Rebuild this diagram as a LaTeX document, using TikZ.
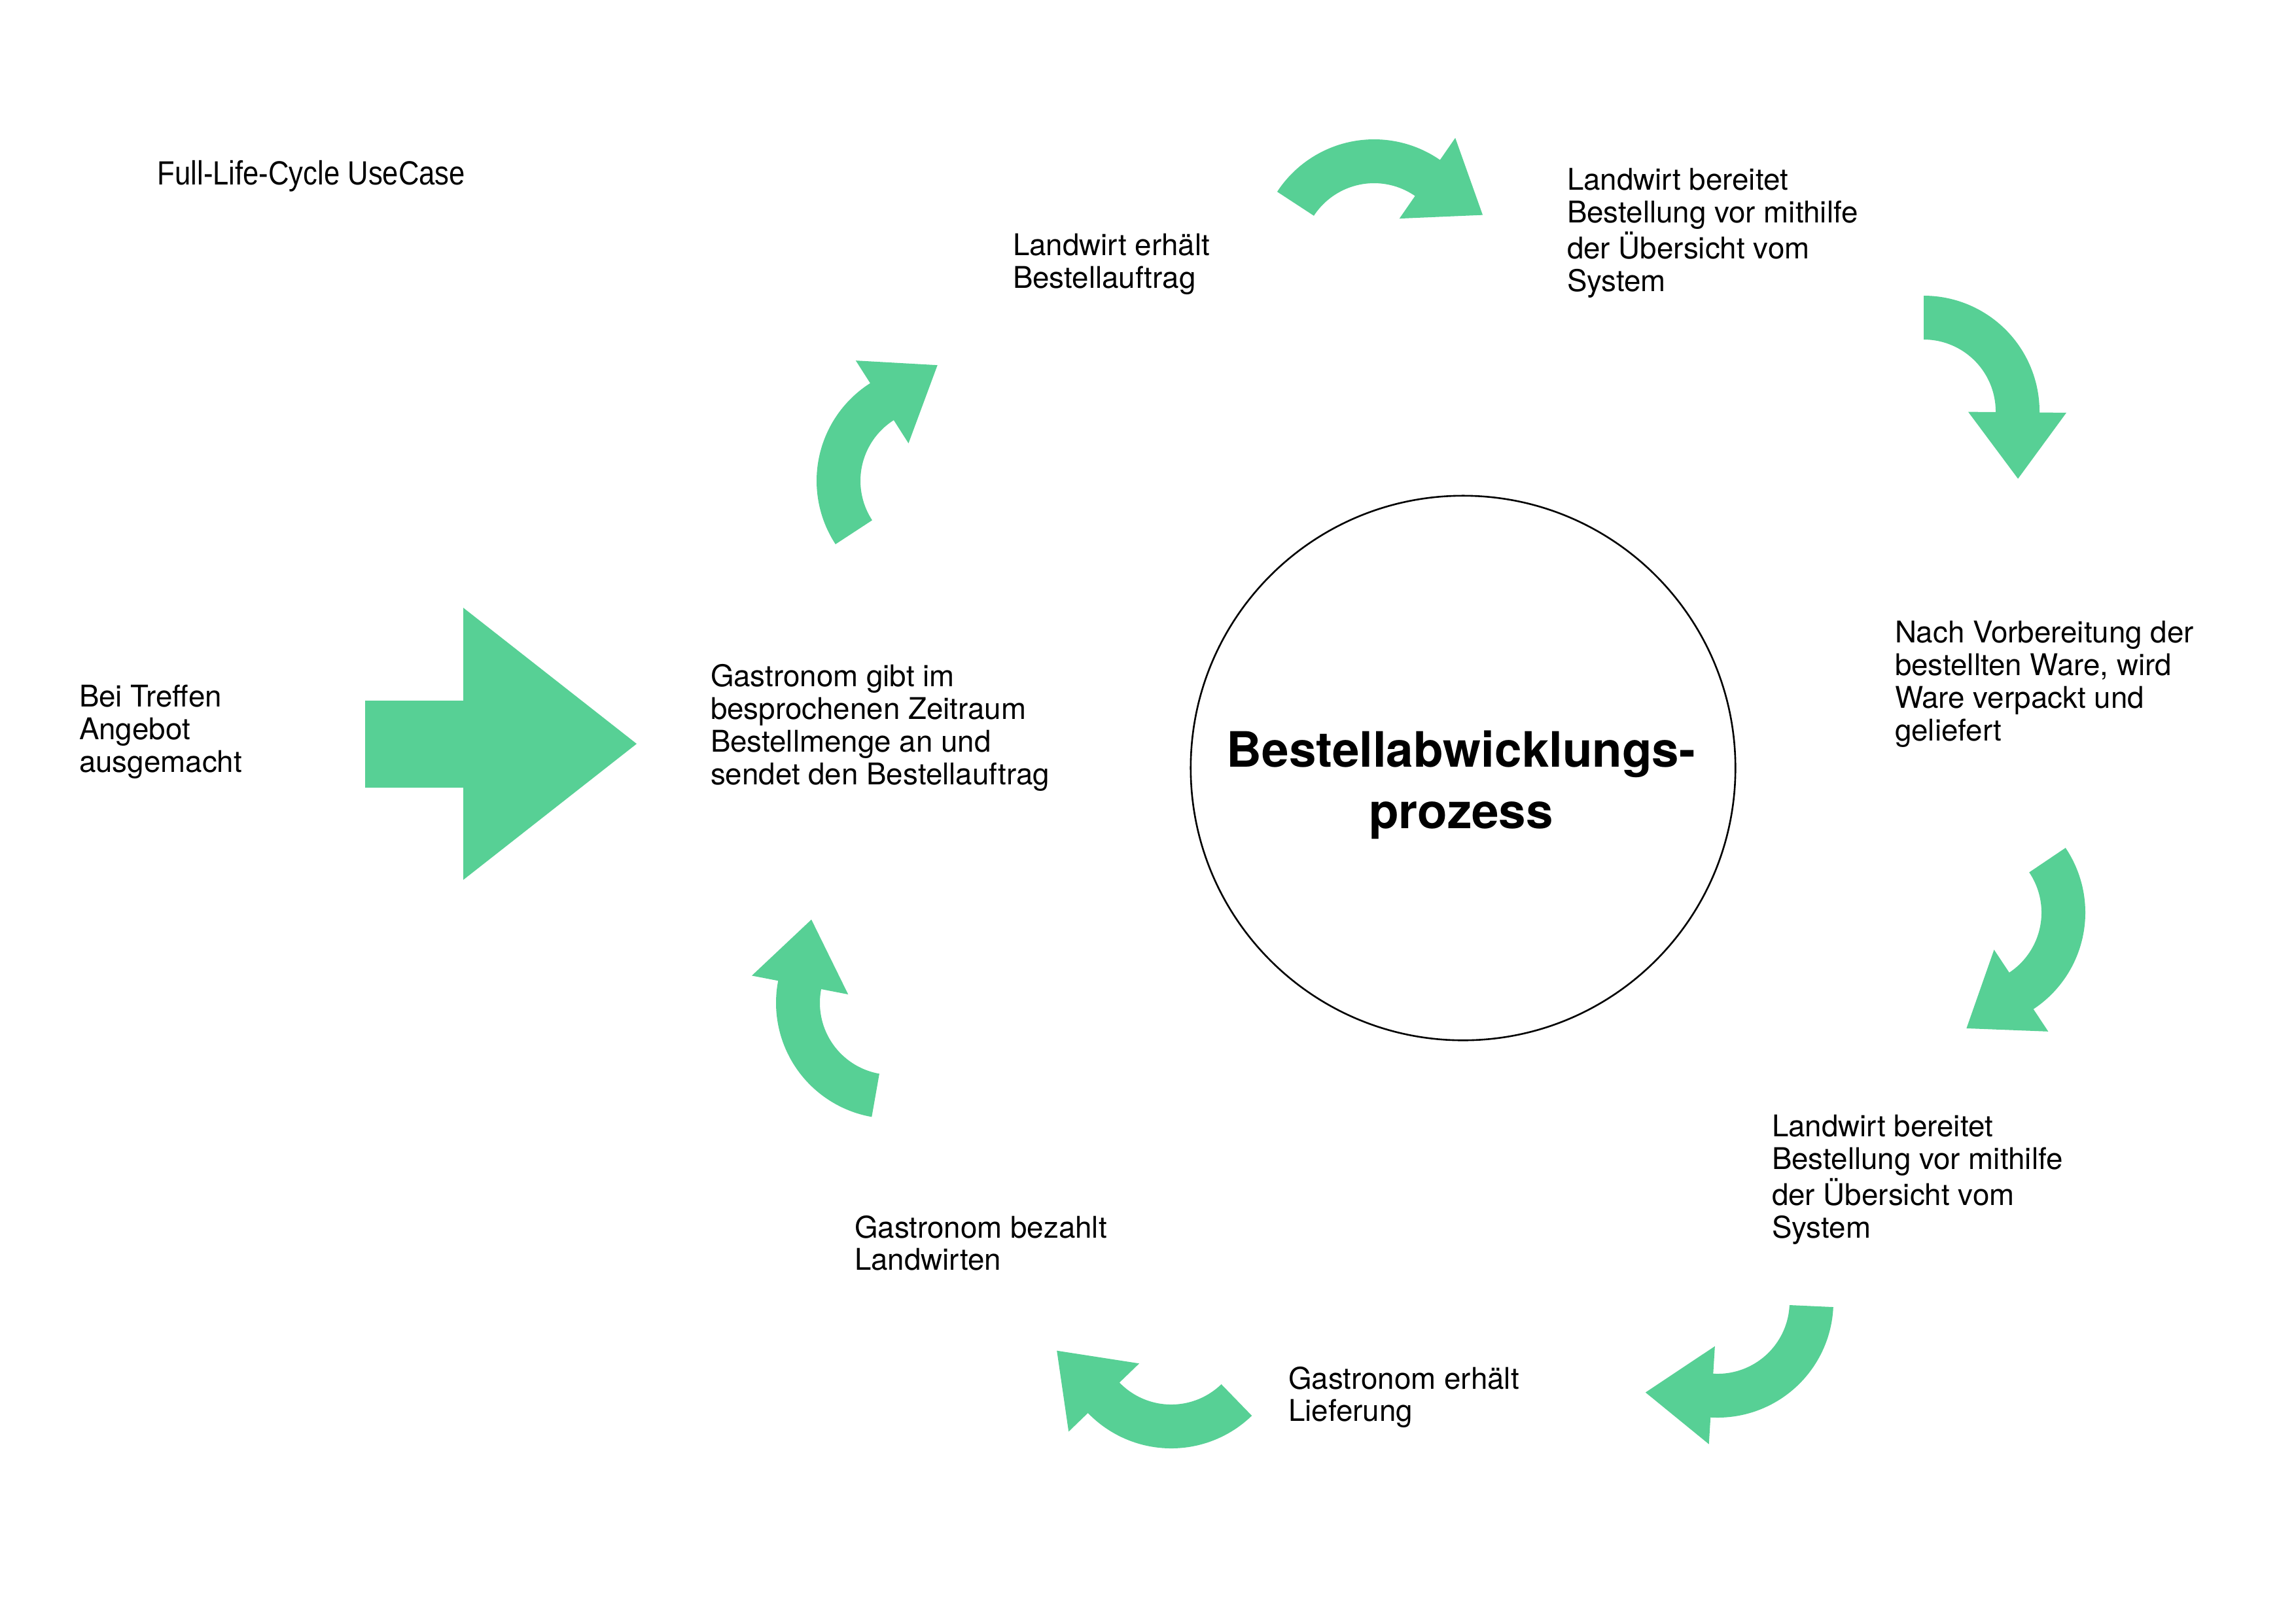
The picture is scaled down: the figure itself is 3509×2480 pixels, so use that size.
\documentclass[tikz,border=0pt]{standalone}
\usepackage{fontspec}
\usepackage{graphicx}
\setmainfont{TeX Gyre Heros}
\newfontfamily\titlefont{Liberation Sans}
\definecolor{arrowgreen}{RGB}{87,208,149}
\tikzset{
  txt/.style={anchor=north west, inner sep=0pt, outer sep=0pt, align=left, font=\fontsize{13}{14.2}\selectfont},
  coretxt/.style={anchor=north, inner sep=0pt, align=center, font=\fontsize{21.2}{26.7}\selectfont\bfseries},
  corecircle/.style={circle, draw=black, line width=0.74pt, minimum size=8.32cm, inner sep=0pt},
  greenfill/.style={fill=arrowgreen}
}
% cx, cy, start angle, end angle, tip angle
\newcommand{\bendarrow}[5]{%
  \fill[greenfill] ([shift={(#1,#2)}]#3:177) arc[start angle=#3, end angle=#4, radius=177]
    -- ([shift={(#1,#2)}]#4:218) -- ([shift={(#1,#2)}]#5:177)
    -- ([shift={(#1,#2)}]#4:68) -- ([shift={(#1,#2)}]#4:110)
    arc[start angle=#4, end angle=#3, radius=110] -- cycle;}
\begin{document}
\begin{tikzpicture}[x=0.01cm, y=-0.01cm]
\useasboundingbox[fill=white] (0,0) rectangle (3509,2480);

% title
\node[anchor=base west, inner sep=0pt, font=\titlefont\fontsize{14.6}{16}\selectfont] (title) at (240,282) {\scalebox{0.85}[1]{Full-Life-Cycle UseCase}};

% centre
\node[corecircle] (core) at (2236,1174) {};
\node[coretxt] (coretext) at (2233,1106) {\strut Bestellabwicklungs-\\prozess};

% text blocks
\node[txt] (treffen) at (121,1046) {\strut Bei Treffen\\Angebot\\ausgemacht};
\node[txt] (gibt) at (1086,1015) {\strut Gastronom gibt im\\besprochenen Zeitraum\\Bestellmenge an und\\sendet den Bestellauftrag};
\node[txt] (erhaelt) at (1548,356) {\strut Landwirt erhält\\Bestellauftrag};
\node[txt] (bereitetA) at (2395,256) {\strut Landwirt bereitet\\Bestellung vor mithilfe\\der Übersicht vom\\System};
\node[txt] (nach) at (2896,948) {\strut Nach Vorbereitung der\\bestellten Ware, wird\\Ware verpackt und\\geliefert};
\node[txt] (bereitetB) at (2708,1703) {\strut Landwirt bereitet\\Bestellung vor mithilfe\\der Übersicht vom\\System};
\node[txt] (lieferung) at (1969,2088) {\strut Gastronom erhält\\Lieferung};
\node[txt] (bezahlt) at (1306,1857) {\strut Gastronom bezahlt\\Landwirten};

% big straight arrow
\fill[greenfill] (558,1071) -- (708,1071) -- (708,929) -- (973,1137) -- (708,1345) -- (708,1204) -- (558,1204) -- cycle;

% curved arrows
\bendarrow{1425}{735}{146.8}{237.5}{272.5}
\bendarrow{2100}{390}{213.2}{304.7}{339.7}
\bendarrow{2940}{629}{270}{360.5}{395.5}
\bendarrow{3010}{1395}{-34}{56.5}{91.5}
\bendarrow{2625}{1990}{2.6}{93.5}{128.5}
\bendarrow{1790}{2037}{45.9}{136}{171}
\bendarrow{1363}{1533}{100}{191}{226}
\end{tikzpicture}
\end{document}
